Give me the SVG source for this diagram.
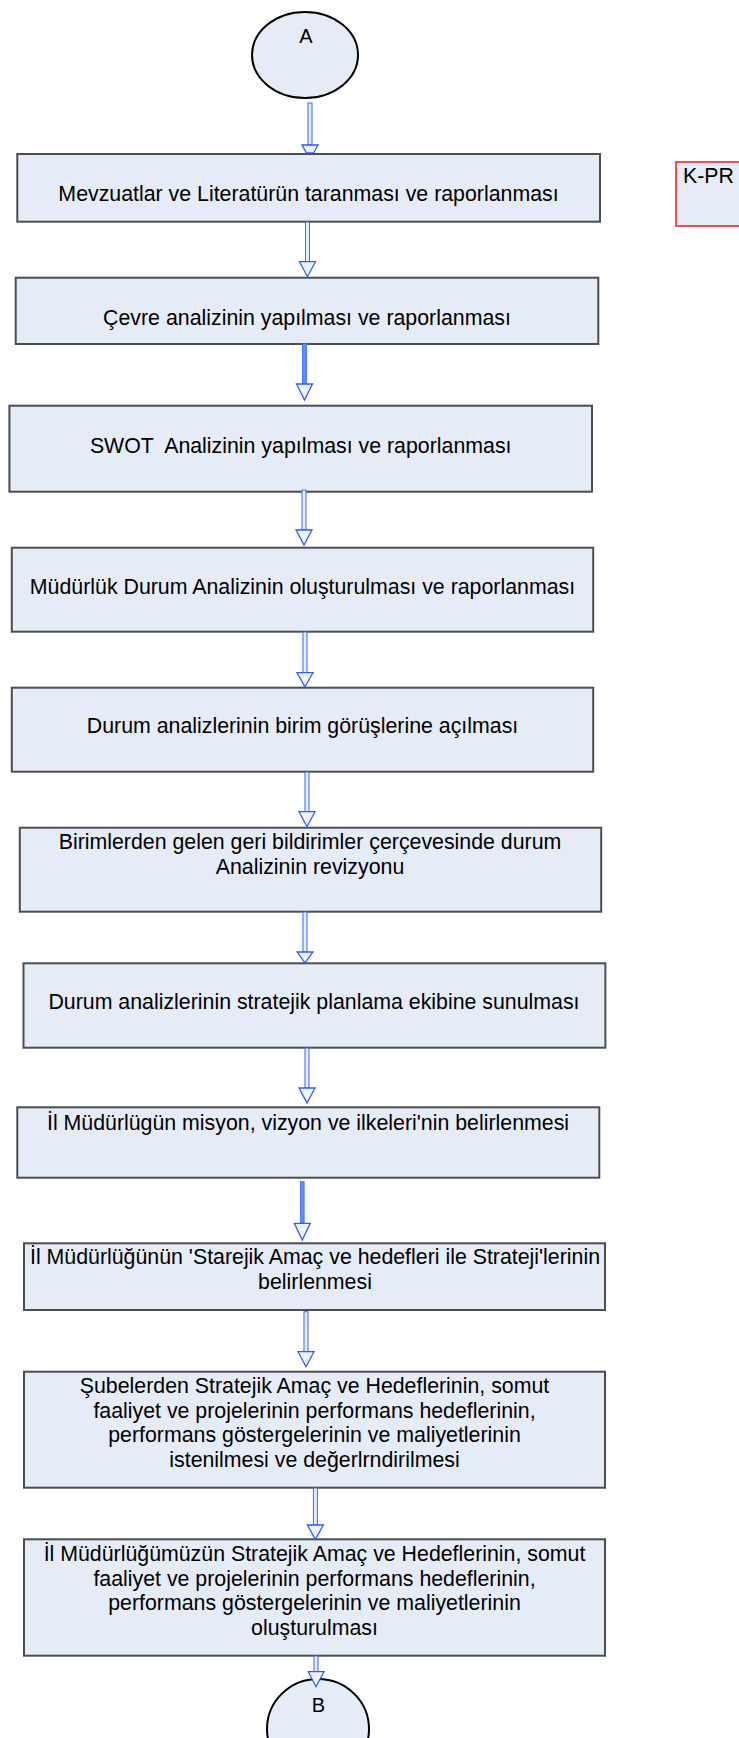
<svg xmlns="http://www.w3.org/2000/svg" width="739" height="1738" viewBox="0 0 739 1738">
<style>
.bx{fill:#e6ecf7;stroke:#4d4d50;stroke-width:2}
.el{fill:#e6ecf7;stroke:#000;stroke-width:2}
.kp{fill:#e6ecf7;stroke:#f55050;stroke-width:2}
.t{font-family:"Liberation Sans",Arial,sans-serif;font-size:21.33px;fill:#000;text-anchor:middle}
.tl{font-family:"Liberation Sans",Arial,sans-serif;font-size:21.33px;fill:#000}
.te{font-family:"Liberation Sans",Arial,sans-serif;font-size:20px;fill:#000;text-anchor:middle}
.sh{fill:#e4ecff;stroke:#3a66ff;stroke-width:1}
.ss{fill:#5f8cff;stroke:#4a78ff;stroke-width:1}
.hd{fill:#eef3ff;stroke:#2f5cff;stroke-width:1.3;stroke-linejoin:miter}
</style>
<rect width="739" height="1738" fill="#fff"/>
<g id="nodes">
<g id="startA"><ellipse class="el" cx="305" cy="55" rx="53" ry="43"/><text class="te" x="306" y="43">A</text></g>
<g id="kpr"><rect class="kp" x="676" y="162" width="70" height="64"/><text class="tl" x="683" y="183">K-PR</text></g>
<g id="n1"><rect class="bx" x="17.3" y="154" width="582.7" height="67.7"/><text class="t" x="308.5" y="201">Mevzuatlar ve Literatürün taranması ve raporlanması</text></g>
<g id="n2"><rect class="bx" x="15.7" y="277.7" width="582.6" height="66.3"/><text class="t" x="307" y="325">Çevre analizinin yapılması ve raporlanması</text></g>
<g id="n3"><rect class="bx" x="9.4" y="405.7" width="582.6" height="86"/><text class="t" x="300.7" y="453" xml:space="preserve">SWOT  Analizinin yapılması ve raporlanması</text></g>
<g id="n4"><rect class="bx" x="11.8" y="547.7" width="581.4" height="84"/><text class="t" x="302.5" y="594">Müdürlük Durum Analizinin oluşturulması ve raporlanması</text></g>
<g id="n5"><rect class="bx" x="11.8" y="687.7" width="581.4" height="84"/><text class="t" x="302.5" y="733">Durum analizlerinin birim görüşlerine açılması</text></g>
<g id="n6"><rect class="bx" x="19.8" y="827.7" width="581.4" height="84"/><text class="t" x="310" y="849">Birimlerden gelen geri bildirimler çerçevesinde durum</text><text class="t" x="310" y="874">Analizinin revizyonu</text></g>
<g id="n7"><rect class="bx" x="23.5" y="963.3" width="581.9" height="84.4"/><text class="t" x="314" y="1009">Durum analizlerinin stratejik planlama ekibine sunulması</text></g>
<g id="n8"><rect class="bx" x="17.3" y="1107.3" width="582" height="70.4"/><text class="t" x="308" y="1130">İl Müdürlügün misyon, vizyon ve ilkeleri'nin belirlenmesi</text></g>
<g id="n9"><rect class="bx" x="24" y="1243.3" width="581" height="66.7"/><text class="t" x="315" y="1264">İl Müdürlüğünün 'Starejik Amaç ve hedefleri ile Strateji'lerinin</text><text class="t" x="315" y="1289">belirlenmesi</text></g>
<g id="n10"><rect class="bx" x="24" y="1371.7" width="581" height="116"/><text class="t" x="314.5" y="1393">Şubelerden Stratejik Amaç ve Hedeflerinin, somut</text><text class="t" x="314.5" y="1417.5">faaliyet ve projelerinin performans hedeflerinin,</text><text class="t" x="314.5" y="1442">performans göstergelerinin ve maliyetlerinin</text><text class="t" x="314.5" y="1466.5">istenilmesi ve değerlrndirilmesi</text></g>
<g id="n11"><rect class="bx" x="24" y="1539.3" width="581" height="116.4"/><text class="t" x="314.5" y="1561">İl Müdürlüğümüzün Stratejik Amaç ve Hedeflerinin, somut</text><text class="t" x="314.5" y="1585.5">faaliyet ve projelerinin performans hedeflerinin,</text><text class="t" x="314.5" y="1610">performans göstergelerinin ve maliyetlerinin</text><text class="t" x="314.5" y="1634.5">oluşturulması</text></g>
<g id="endB"><ellipse class="el" cx="318" cy="1729" rx="51" ry="50"/><text class="te" x="318.5" y="1711.5">B</text></g>
</g>
<g id="connectors">
<rect class="sh" x="308" y="103" width="4" height="42"/><polygon class="hd" points="302,145 318,145 313.5,153 306.5,153"/>
<rect class="sh" x="305.5" y="222" width="4" height="39.7"/><polygon class="hd" points="299.5,261.7 315.5,261.7 307.5,276.7"/>
<rect class="ss" x="302.5" y="344" width="4" height="40"/><polygon class="hd" points="296.5,384 312.5,384 304.5,400"/>
<rect class="sh" x="302" y="490" width="4" height="40"/><polygon class="hd" points="296,530 312,530 304,545"/>
<rect class="sh" x="303" y="632" width="4" height="40.7"/><polygon class="hd" points="297,672.7 313,672.7 305,686.7"/>
<rect class="sh" x="305" y="772" width="4" height="39.7"/><polygon class="hd" points="299,811.7 315,811.7 307,826.7"/>
<rect class="sh" x="303" y="912" width="4" height="40"/><polygon class="hd" points="297,952 313,952 305,963"/>
<rect class="sh" x="305" y="1048" width="4" height="40"/><polygon class="hd" points="299,1088 315,1088 307,1103"/>
<rect class="ss" x="300.5" y="1181.7" width="3.6" height="41.6"/><polygon class="hd" points="294.3,1223.3 310.3,1223.3 302.3,1240"/>
<rect class="sh" x="304" y="1311.7" width="4" height="40"/><polygon class="hd" points="298,1351.7 314,1351.7 306,1366.7"/>
<rect class="sh" x="313.4" y="1488" width="4" height="37"/><polygon class="hd" points="307.4,1525 323.4,1525 315.4,1539.3"/>
<rect class="sh" x="314" y="1656" width="4" height="15.7"/><polygon class="hd" points="308.3,1671.7 324,1671.7 316,1686.7"/>
</g>
</svg>
